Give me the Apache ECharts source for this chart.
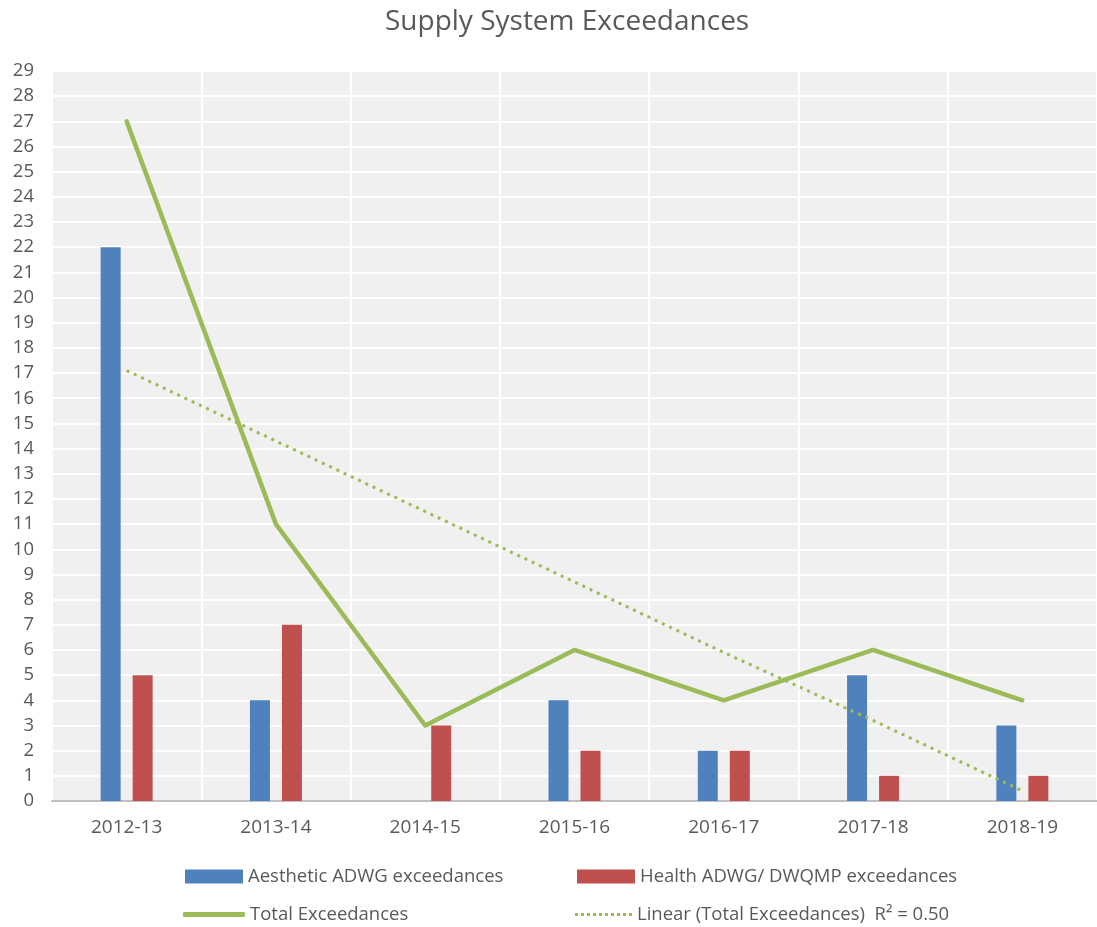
<!DOCTYPE html>
<html>
<head>
<meta charset="utf-8">
<script src="https://cdn.jsdelivr.net/npm/echarts@6/dist/echarts.min.js"></script>
<style>
  html, body { margin: 0; padding: 0; background: #fff; }
  #chart { width: 1097px; height: 927px; }
</style>
</head>
<body>
<div id="chart"></div>
<script>
var years = ['2012-13', '2013-14', '2014-15', '2015-16', '2016-17', '2017-18', '2018-19'];
var aesthetic = [22, 4, 0, 4, 2, 5, 3];
var health = [5, 7, 3, 2, 2, 1, 1];
var total = [27, 11, 3, 6, 4, 6, 4];
var trend = [17.1, 14.3, 11.5, 8.7, 5.9, 3.2, 0.4];

var names = [
    'Aesthetic ADWG exceedances',
    'Health ADWG/ DWQMP exceedances',
    'Total Exceedances',
    'Linear (Total Exceedances)  R\u00b2 = 0.50'
];

var txt = '#595959';
var font = '"Open Sans", Lato, sans-serif';

// dotted line icon for the trend legend entry
var dots = 'path://';
for (var i = 0; i < 10; i++) dots += 'M' + (i * 6) + ',0h3v3h-3z';

function legendAt(name, left, top, icon, w, h) {
    return {
        data: [{ name: name, icon: icon }],
        left: left, top: top,
        itemWidth: w, itemHeight: h, itemGap: 7,
        textStyle: { color: txt, fontSize: 18.5, fontFamily: font }
    };
}

var option = {
    animation: false,
    backgroundColor: '#fff',
    title: {
        text: 'Supply System Exceedances',
        left: 380,
        top: 3,
        textStyle: { color: txt, fontSize: 28, fontWeight: 'normal', fontFamily: font }
    },
    legend: [
        legendAt(names[0], 180, 862, 'rect', 58, 14),
        legendAt(names[1], 572, 862, 'rect', 58, 14),
        legendAt(names[2], 178, 900, 'roundRect', 62, 5),
        legendAt(names[3], 570, 900, dots, 57, 3)
    ],
    grid: { left: 52, right: 0, top: 71, bottom: 126, containLabel: false },
    xAxis: {
        type: 'category',
        data: years,
        axisTick: { show: false },
        axisLine: { lineStyle: { color: '#bfbfbf', width: 2 } },
        axisLabel: { color: txt, fontSize: 19, fontFamily: font, margin: 17 },
        splitLine: { show: true, lineStyle: { color: '#ffffff', width: 2 } }
    },
    yAxis: {
        type: 'value',
        min: 0, max: 29, interval: 1,
        axisLine: { show: false },
        axisTick: { show: false },
        axisLabel: { color: txt, fontSize: 18.5, fontFamily: font, margin: 18 },
        splitLine: { lineStyle: { color: '#ffffff', width: 2 } },
        splitArea: { show: true, areaStyle: { color: ['#f0f0f0', '#f0f0f0'] } }
    },
    series: [
        {
            name: names[0], type: 'bar', data: aesthetic,
            barWidth: 20, barGap: '60%',
            itemStyle: { color: '#4f81bd' }
        },
        {
            name: names[1], type: 'bar', data: health,
            barWidth: 20,
            itemStyle: { color: '#c0504d' }
        },
        {
            name: names[2], type: 'line', data: total,
            showSymbol: false, symbol: 'none',
            itemStyle: { color: '#9bbb59' },
            lineStyle: { color: '#9bbb59', width: 4.5, cap: 'round', join: 'round' },
            z: 5
        },
        {
            name: names[3], type: 'line', data: trend,
            showSymbol: false, symbol: 'none',
            itemStyle: { color: '#9bbb59' },
            lineStyle: { color: '#9bbb59', width: 3, type: [3, 5] },
            z: 4
        }
    ]
};

var myChart = echarts.init(document.getElementById('chart'));
myChart.setOption(option);
</script>
</body>
</html>
